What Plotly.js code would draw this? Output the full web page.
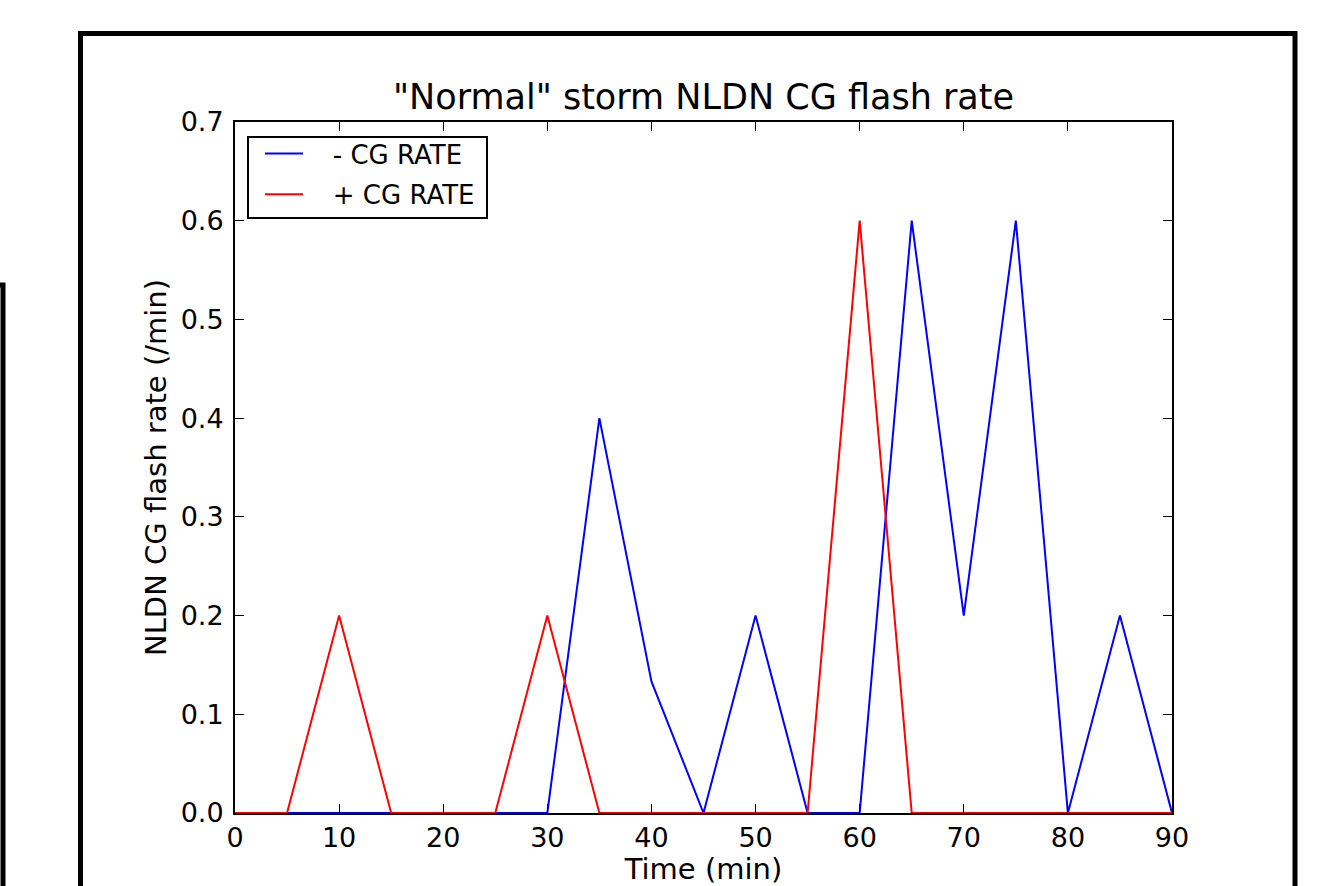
<!DOCTYPE html>
<html>
<head>
<meta charset="utf-8">
<script src="https://cdn.plot.ly/plotly-3.0.1.min.js"></script>
<style>
  html, body { margin: 0; padding: 0; background: #fff; }
  #chart { width: 1321px; height: 886px; }
</style>
</head>
<body>
<div id="chart"></div>
<script>
// Time (min)
const timeMin = [0, 5, 10, 15, 20, 25, 30, 35, 40, 45, 50, 55, 60, 65, 70, 75, 80, 85, 90];
// - CG rate (/min)
const negCG = [0, 0, 0, 0, 0, 0, 0, 0.4, 0.1333, 0, 0.2, 0, 0, 0.6, 0.2, 0.6, 0, 0.2, 0];
// + CG rate (/min)
const posCG = [0, 0, 0.2, 0, 0, 0, 0.2, 0, 0, 0, 0, 0, 0.6, 0, 0, 0, 0, 0, 0];
const seriesNames = ['- CG RATE', '+ CG RATE'];
const xTicks = [0, 10, 20, 30, 40, 50, 60, 70, 80, 90];
const yTicks = [0, 0.1, 0.2, 0.3, 0.4, 0.5, 0.6, 0.7];

const FONT = 'DejaVu Sans, sans-serif';
const L = 235, R = 1172, T = 122, B = 813;
const W = R - L, H = B - T;
const px = v => (v - L) / W;
const py = v => (B - v) / H;
const GAP = '\u00a0\u00a0\u00a0';

const traces = [
  { x: timeMin, y: negCG, name: GAP + seriesNames[0], legendgroup: 'neg', type: 'scatter', mode: 'lines',
    line: { color: '#0000ff', width: 2 } },
  { x: timeMin, y: posCG, name: GAP + seriesNames[1], legendgroup: 'pos', type: 'scatter', mode: 'lines',
    line: { color: '#ff0000', width: 2 } }
];

const axisCommon = {
  showline: true, linecolor: '#000', linewidth: 2, mirror: 'allticks',
  ticks: 'inside', ticklen: 9, tickwidth: 1, tickcolor: '#000',
  showgrid: false, zeroline: false,
  tickfont: { family: FONT, size: 27, color: '#000' }
};

const layout = {
  width: 1321, height: 886,
  margin: { l: L, r: 1321 - R, t: T, b: 886 - B, pad: 0 },
  paper_bgcolor: '#fff', plot_bgcolor: '#fff',
  title: { text: '"Normal" storm NLDN CG flash rate', font: { family: FONT, size: 35, color: '#000' },
           x: (L + R) / 2 / 1321, xanchor: 'center', y: 1 - 97 / 886, yanchor: 'middle' },
  xaxis: Object.assign({}, axisCommon, {
    range: [0, 90], tickvals: xTicks, ticktext: xTicks.map(String),
    ticklabelstandoff: 0,
    title: { text: 'Time (min)', font: { family: FONT, size: 29, color: '#000' }, standoff: 0 }
  }),
  yaxis: Object.assign({}, axisCommon, {
    range: [0, 0.7], tickvals: yTicks, ticktext: yTicks.map(v => v.toFixed(1)),
    ticklabelstandoff: 4,
    title: { text: 'NLDN CG flash rate (/min)', font: { family: FONT, size: 29, color: '#000' }, standoff: 5 }
  }),
  showlegend: true,
  legend: {
    x: px(248), y: py(130), xanchor: 'left', yanchor: 'top',
    bgcolor: 'rgba(0,0,0,0)', borderwidth: 0,
    indentation: 12, itemwidth: 38,
    font: { family: FONT, size: 26, color: '#000' },
    tracegroupgap: 4
  },
  shapes: [
    { type: 'rect', xref: 'paper', yref: 'paper', layer: 'above',
      x0: px(248), x1: px(487), y0: py(218), y1: py(137),
      line: { color: '#000', width: 2 }, fillcolor: '#fff' },
    { type: 'rect', xref: 'paper', yref: 'paper', layer: 'above',
      x0: px(80.5), x1: px(1295), y0: py(905), y1: py(33.5),
      line: { color: '#000', width: 5 }, fillcolor: 'rgba(0,0,0,0)' },
    { type: 'rect', xref: 'paper', yref: 'paper', layer: 'above',
      x0: px(-20), x1: px(3), y0: py(905), y1: py(285),
      line: { color: '#000', width: 5 }, fillcolor: 'rgba(0,0,0,0)' }
  ]
};

Plotly.newPlot('chart', traces, layout, { displayModeBar: false, staticPlot: true });
</script>
</body>
</html>
